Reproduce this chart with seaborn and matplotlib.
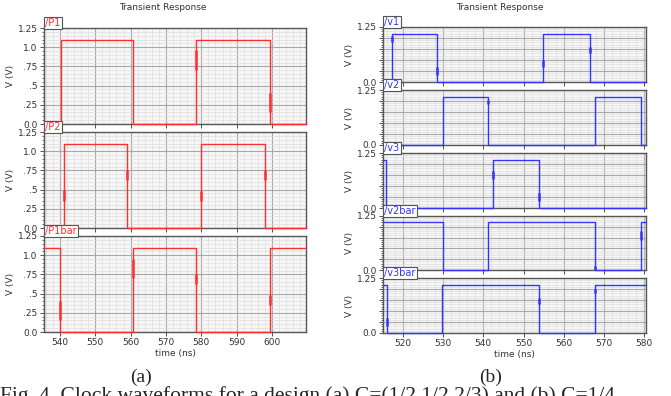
import numpy as np
import pandas as pd
import seaborn as sns
import matplotlib.pyplot as plt
from matplotlib.ticker import MultipleLocator

# --- data: edge times (ns) and the level held after each edge (V)
# panel (a)
P1_t = [535.5, 540.3, 560.6, 578.5, 599.3, 609.6]
P1_v = [0.0, 1.1, 0.0, 1.1, 0.0, 0.0]
P2_t = [535.5, 541.2, 559.1, 579.9, 597.9, 609.6]
P2_v = [0.0, 1.1, 0.0, 1.1, 0.0, 0.0]
P1bar_t = [535.5, 539.9, 560.6, 578.5, 599.3, 609.6]
P1bar_v = [1.1, 0.0, 1.1, 0.0, 1.1, 1.1]
# glitch marks: time, low, high
P1_glitch = [(578.4, 0.70, 0.96), (599.3, 0.15, 0.40)]
P2_glitch = [(541.1, 0.35, 0.50), (559.1, 0.62, 0.75), (579.9, 0.35, 0.48), (597.9, 0.62, 0.75)]
P1bar_glitch = [(539.9, 0.15, 0.40), (560.6, 0.70, 0.95), (578.5, 0.62, 0.75), (599.3, 0.35, 0.48)]

# panel (b)
v1_t = [515.1, 517.3, 528.6, 554.8, 566.4, 580.4]
v1_v = [0.0, 1.1, 0.0, 1.1, 0.0, 0.0]
v2_t = [515.1, 529.9, 541.2, 567.8, 579.2, 580.4]
v2_v = [0.0, 1.1, 0.0, 1.1, 0.0, 0.0]
v3_t = [515.1, 515.9, 542.4, 553.8, 580.4]
v3_v = [1.1, 0.0, 1.1, 0.0, 0.0]
v2bar_t = [515.1, 529.9, 541.2, 567.8, 579.2, 580.4]
v2bar_v = [1.1, 0.0, 1.1, 0.0, 1.1, 1.1]
v3bar_t = [515.1, 516.0, 529.8, 553.8, 567.8, 580.4]
v3bar_v = [1.1, 0.0, 1.1, 0.0, 1.1, 1.1]
v1_glitch = [(517.3, 0.90, 1.05), (528.6, 0.15, 0.35), (554.8, 0.35, 0.50), (566.4, 0.65, 0.80)]
v2_glitch = [(541.2, 0.93, 1.02)]
v3_glitch = [(542.4, 0.65, 0.85), (553.8, 0.15, 0.35)]
v2bar_glitch = [(567.8, 0.0, 0.10), (579.2, 0.70, 0.90)]
v3bar_glitch = [(516.0, 0.15, 0.35), (553.8, 0.65, 0.80), (567.8, 0.90, 1.00)]

a_xticks = [540, 550, 560, 570, 580, 590, 600]
b_xticks = [520, 530, 540, 550, 560, 570, 580]
a_yticks = [0.0, 0.25, 0.5, 0.75, 1.0, 1.25]
a_ylabels = ['0.0', '.25', '.5', '.75', '1.0', '1.25']

red = '#ff2f2f'
blue = '#3434ff'

sns.set_style('white')
plt.rcParams['font.family'] = ['DejaVu Sans']

W, H = 671, 396
fig = plt.figure(figsize=(W / 100, H / 100), dpi=100)


def box(x0, x1, top, bot):
    return [x0 / W, 1 - bot / H, (x1 - x0) / W, (bot - top) / H]


def trace(ax, t, v, glitch, name, col, xlim, xticks, ytick_labels, bottom):
    df = pd.DataFrame({'t': t, 'v': v})
    sns.lineplot(data=df, x='t', y='v', ax=ax, color=col, lw=1.0,
                 drawstyle='steps-post', sort=False, clip_on=False, zorder=5)
    for g in glitch:
        ax.vlines(g[0], g[1], g[2], color=col, lw=1.8, zorder=6)
    ax.set_facecolor('#f7f7f7')
    ax.set_xlim(xlim)
    ax.set_ylim(0, 1.25)
    ax.xaxis.set_major_locator(plt.FixedLocator(xticks))
    ax.xaxis.set_minor_locator(MultipleLocator(2))
    ax.set_yticks(a_yticks)
    ax.set_yticklabels(ytick_labels)
    ax.yaxis.set_minor_locator(MultipleLocator(0.05))
    ax.grid(which='major', color='#a8a8a8', lw=0.8)
    ax.grid(which='minor', color='#dedede', lw=0.5)
    ax.set_axisbelow(True)
    for s in ax.spines.values():
        s.set_color('#555555')
        s.set_linewidth(1.0)
    ax.tick_params(axis='both', which='major', length=3, width=0.6, labelsize=6.5,
                   colors='#333333', pad=1.5, left=True, bottom=True)
    ax.tick_params(axis='y', which='minor', length=1.8, width=0.5, left=True, color='#333333')
    ax.tick_params(axis='x', which='minor', length=0)
    ax.set_ylabel('V (V)', fontsize=6.5, color='#333333', labelpad=2)
    if bottom:
        ax.set_xlabel('time (ns)', fontsize=6.5, color='#333333', labelpad=1)
    else:
        ax.set_xlabel('')
        ax.set_xticklabels([])
    ax.text(0.004, 1.0, name, transform=ax.transAxes, fontsize=7, color=col,
            ha='left', va='bottom', zorder=10,
            bbox=dict(boxstyle='square,pad=0.15', fc='white', ec='#555555', lw=0.8))


a_rows = [(28, 124), (132, 228), (236, 332)]
a_sig = [(P1_t, P1_v, P1_glitch, '/P1'),
         (P2_t, P2_v, P2_glitch, '/P2'),
         (P1bar_t, P1bar_v, P1bar_glitch, '/P1bar')]
for i, ((top, bot), (t, v, g, name)) in enumerate(zip(a_rows, a_sig)):
    ax = fig.add_axes(box(44, 306, top, bot))
    trace(ax, t, v, g, name, red, (535.5, 609.6), a_xticks, a_ylabels, i == 2)

b_rows = [(27, 82), (90, 145), (153, 208), (216, 270), (278, 333)]
b_sig = [(v1_t, v1_v, v1_glitch, '/v1'),
         (v2_t, v2_v, v2_glitch, '/v2'),
         (v3_t, v3_v, v3_glitch, '/v3'),
         (v2bar_t, v2bar_v, v2bar_glitch, '/v2bar'),
         (v3bar_t, v3bar_v, v3bar_glitch, '/v3bar')]
b_ylabels = ['0.0', '', '', '', '', '1.25']
for i, ((top, bot), (t, v, g, name)) in enumerate(zip(b_rows, b_sig)):
    ax = fig.add_axes(box(383, 646, top, bot))
    trace(ax, t, v, g, name, blue, (515.1, 580.4), b_xticks, b_ylabels, i == 4)

fig.text(163 / W, 1 - 7 / H, 'Transient Response', fontsize=6.5, color='#333333',
         ha='center', va='center')
fig.text(500 / W, 1 - 7 / H, 'Transient Response', fontsize=6.5, color='#333333',
         ha='center', va='center')

serif = ['Liberation Serif', 'DejaVu Serif']
fig.text(141 / W, 1 - 377 / H, '(a)', fontsize=14, family=serif, ha='center', va='center')
fig.text(491 / W, 1 - 377 / H, '(b)', fontsize=14, family=serif, ha='center', va='center')
fig.text(0.0, 1 - 401 / H, 'Fig. 4. Clock waveforms for a design (a) C=(1/2,1/2,2/3) and (b) C=1/4',
         fontsize=15.5, family=serif, ha='left', va='baseline')

fig.savefig('out.png', dpi=100)
